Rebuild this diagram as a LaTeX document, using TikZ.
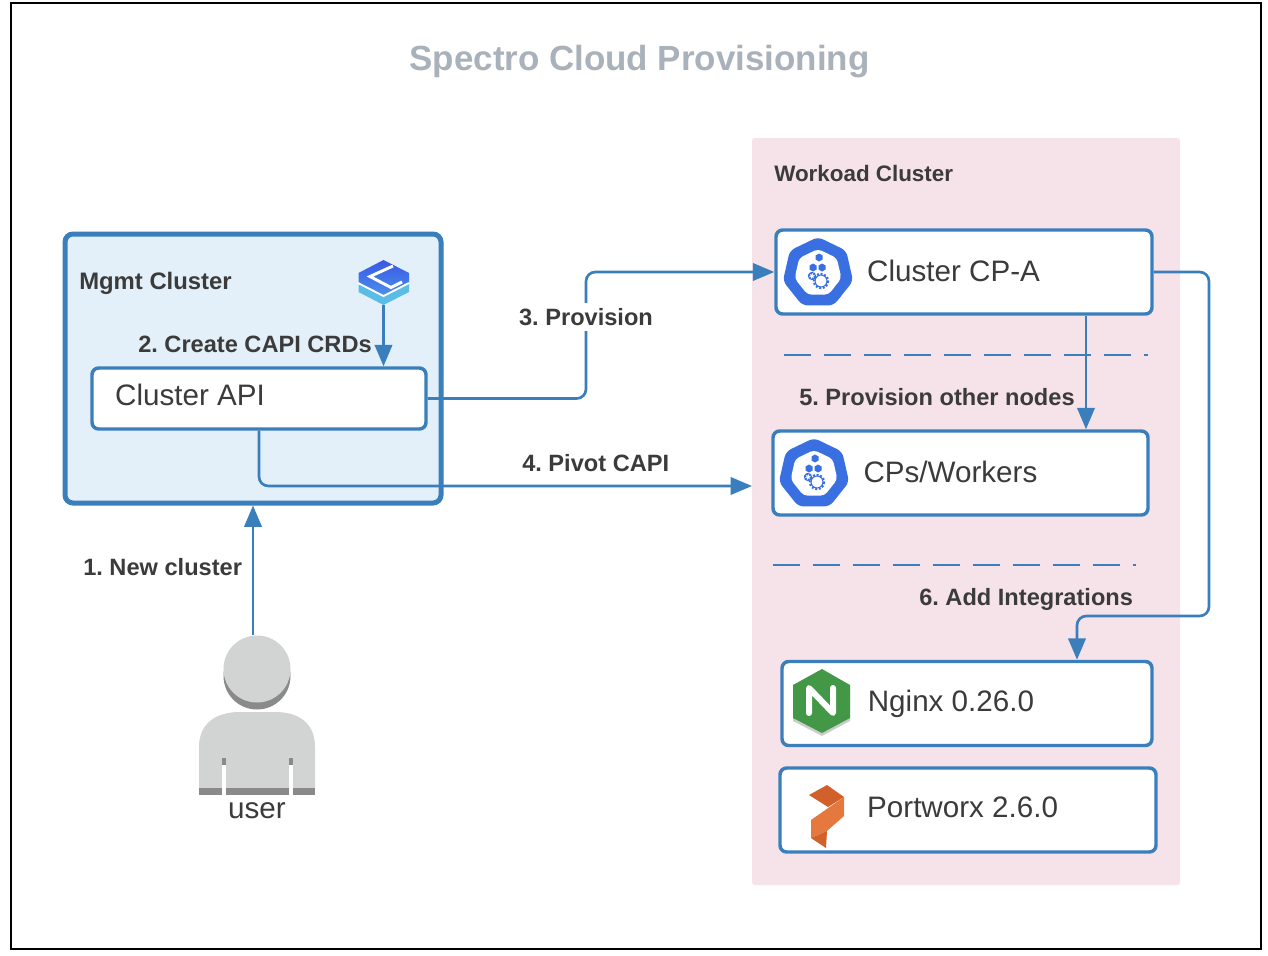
\documentclass[tikz,border=0pt]{standalone}
\usepackage{fontspec}
\setmainfont{Liberation Sans}
\usetikzlibrary{
  positioning,
  shapes.geometric,
  arrows.meta,
  calc
}
\definecolor{linkblue}{HTML}{3A7FBC}
\definecolor{panelpink}{HTML}{F6E3EA}
\definecolor{mgmtblue}{HTML}{E3F0F9}
\definecolor{kubeblue}{HTML}{3A6FE2}
\definecolor{txtdark}{HTML}{3B3B3B}
\definecolor{titlegray}{HTML}{A9B1BA}
\definecolor{usergray}{HTML}{D2D4D4}
\definecolor{usershade}{HTML}{8A8A8A}
\definecolor{nginxgreen}{HTML}{429846}
\definecolor{pxlight}{HTML}{E4783F}
\definecolor{pxdark}{HTML}{D2602B}
\definecolor{logotop}{HTML}{3A57E6}
\definecolor{logomid}{HTML}{4A93EA}
\definecolor{logolow}{HTML}{5ABDE6}

\tikzset{
  kubeicon/.pic={
    \path node[regular polygon, regular polygon sides=7, minimum size=54pt, fill=kubeblue, rounded corners=4pt, inner sep=0pt] {};
    \path node[regular polygon, regular polygon sides=7, minimum size=36pt, fill=white, rounded corners=3pt, inner sep=0pt] {};
    \foreach \cx/\cy in {1/-16, -5/-6, 4/-6} {
      \fill[kubeblue] (\cx,\cy) ++(-3.5,-1.5) -- ++(3.5,-2) -- ++(3.5,2) -- ++(0,4) -- ++(-3.5,2) -- ++(-3.5,-2) -- cycle;
    }
    \draw[kubeblue, line width=1.6pt, dash pattern=on 1.2pt off 1.1pt] (-6,3) circle (3);
    \draw[kubeblue, line width=.8pt] (-6,3) circle (3.5);
    \draw[kubeblue, line width=1.8pt, dash pattern=on 1.4pt off 1.3pt] (3,8) circle (7);
    \draw[kubeblue, line width=.8pt] (3,8) circle (6);
  }
}

\begin{document}
\frenchspacing
\begin{tikzpicture}[
  x=0.75pt, y=-0.75pt,
  every node/.style={font=\fontsize{17.7pt}{22pt}\selectfont\bfseries, text=txtdark, inner sep=0pt},
  boxnode/.style={rectangle, draw=linkblue, fill=white, line width=2.6pt, rounded corners=5pt, minimum width=#1*0.75pt, minimum height=63pt},
  boxtext/.style={font=\fontsize{22.2pt}{26pt}\selectfont},
  steplabel/.style={anchor=west},
  arrow/.style={line width=2pt, draw=linkblue, rounded corners=7pt, -{Triangle[length=16pt, width=13pt]}},
  divider/.style={line width=1.8pt, draw=linkblue, dash pattern=on 20pt off 10pt}
]
\useasboundingbox (0,0) rectangle (1268,956);
\fill[white] (0,0) rectangle (1268,956);
\draw[black, line width=1.5pt] (11,3) rectangle (1261,949);

\node[font=\fontsize{26.2pt}{30pt}\selectfont\bfseries, text=titlegray] (title) at (639.5,62) {Spectro Cloud Provisioning};

% Panels
\node[rectangle, fill=panelpink, rounded corners=2pt, minimum width=321pt, minimum height=560.25pt] (workload) at (966,511.5) {};
\node[rectangle, draw=linkblue, fill=mgmtblue, line width=3.75pt, rounded corners=6pt, minimum width=282pt, minimum height=201.75pt] (mgmt) at (253,368.5) {};

\node[steplabel, font=\fontsize{16.8pt}{22pt}\selectfont\bfseries] (workloadlabel) at (774,173) {Workoad Cluster};
\node[steplabel, font=\fontsize{17.9pt}{22pt}\selectfont\bfseries] (mgmtlabel) at (79,283) {Mgmt Cluster};

% Boxes
\node[boxnode=334, minimum height=45.75pt] (capi) at (259,398.5) {};
\node[boxnode=376] (cpa) at (964,272) {};
\node[boxnode=375] (workers) at (960.5,473) {};
\node[boxnode=370] (nginx) at (967,703.5) {};
\node[boxnode=376] (portworx) at (968,810) {};

\node[boxtext, right=18.5pt of capi.west, yshift=3pt] (capitext) {Cluster API};
\node[boxtext, right=69.5pt of cpa.west, yshift=.8pt] (cpatext) {Cluster CP-A};
\node[boxtext, right=69pt of workers.west, yshift=.8pt] (workerstext) {CPs/Workers};
\node[boxtext, right=65.5pt of nginx.west] (nginxtext) {Nginx 0.26.0};
\node[boxtext, right=66.5pt of portworx.west, yshift=2.2pt] (portworxtext) {Portworx 2.6.0};

% Icons
\pic at (818,273) {kubeicon};
\pic at (814,474) {kubeicon};

% Spectro logo
\shade[top color=logotop, bottom color=logomid] (383.5,260) -- (409,273) -- (409,284) -- (383.5,297) -- (358.5,284) -- (358.5,273) -- cycle;
\fill[logolow] (358.5,284) -- (383.5,297) -- (409,284) -- (409,292) -- (383.5,305) -- (358.5,292) -- cycle;
\draw[white, line width=2.2pt] (393,266) -- (370,276.5) -- (391,287.5) -- (402,282);
\draw[white, line width=1.4pt] (358,283) -- (383.5,296) -- (409,283);

% Nginx logo
\fill[black, opacity=.2] (822,672) -- (850,688) -- (850,721) -- (822,736) -- (793,721) -- (793,688) -- cycle;
\fill[nginxgreen] (822,669) -- (850,685) -- (850,718) -- (822,733) -- (793,718) -- (793,685) -- cycle;
\draw[white, line width=4.5pt, line cap=round, line join=round] (809,713) -- (809,688) -- (833,713) -- (833,688);

% Portworx logo
\fill[pxdark] (809,795) -- (827,785) -- (844,797) -- (828,807) -- cycle;
\fill[pxlight] (844,797) -- (844,816) -- (827,831) -- (811,838) -- (811,820) -- cycle;
\fill[pxdark] (811,838) -- (827,831) -- (826,848) -- cycle;

% User
\fill[usershade] (257,676) circle (33.5);
\fill[usergray] (257,669) circle (33.5);
\fill[usergray] (199,789) -- (199,747) .. controls (199,724) and (215,712) .. (240,712) -- (275,712) .. controls (300,712) and (315,724) .. (315,747) -- (315,789) -- cycle;
\fill[usershade] (199,788) rectangle (315,795);
\fill[white] (222,765) rectangle (226,796);
\fill[white] (289,765) rectangle (293,796);
\fill[usershade] (222,758) rectangle (226,765);
\fill[usershade] (289,758) rectangle (293,765);
\node[boxtext] (user) at (257,811) {user};
\coordinate (userhead) at (253,635);

% Arrows
\coordinate (logotip) at (383.5,305);
\coordinate (pivotend) at (752,486);
\coordinate (provbend) at (586,317);
\coordinate (workersin) at ($(workers.north)+(125.5,0)$);
\coordinate (nginxin) at ($(nginx.north)+(110,0)$);
\coordinate (addbend) at (1209,616);

\draw[arrow] (userhead) -- (mgmt.south);
\draw[arrow] (logotip) -- (logotip |- capi.north);
\draw[arrow] (capi.south) |- (pivotend);
\draw[arrow] (capi.east) -| (provbend) |- (cpa.west);
\draw[arrow] (cpa.south -| workersin) -- (workersin);
\draw[arrow] (cpa.east) -| (addbend) -| (nginxin);

\draw[divider] (784,355) -- (1148,355);
\draw[divider] (773,565) -- (1136,565);

% Step labels
\node[fill=white, inner ysep=4pt] (provlabel) at (586,317) {3. Provision};
\node[steplabel] (newlabel) at (83,567) {1. New cluster};
\node[steplabel] (crdlabel) at (138,344) {2. Create CAPI CRDs};
\node[steplabel] (pivotlabel) at (522,463) {4. Pivot CAPI};
\node[steplabel] (otherlabel) at (799,397) {5. Provision other nodes};
\node[steplabel] (addlabel) at (919,599) {6. Add Integrations};

\end{tikzpicture}
\end{document}
